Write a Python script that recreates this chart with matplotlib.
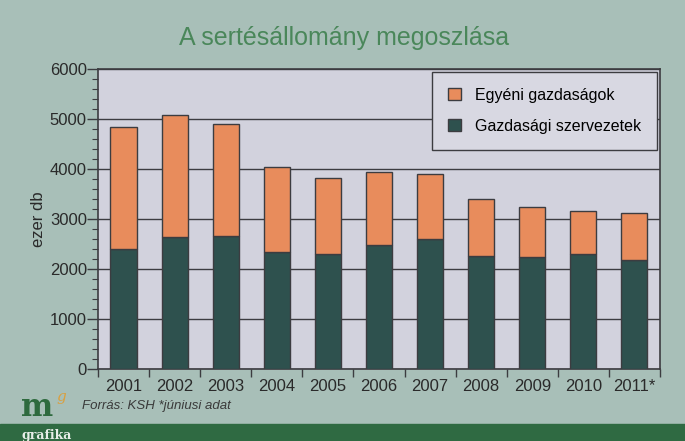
import matplotlib.pyplot as plt
import matplotlib
import numpy as np
from matplotlib.ticker import MultipleLocator

plt.rcParams['font.family'] = ['Liberation Sans', 'DejaVu Sans']

# adatok (ezer db)
evek = ['2001', '2002', '2003', '2004', '2005', '2006', '2007', '2008', '2009', '2010', '2011*']
gazdasagi_szervezetek = [2390, 2630, 2650, 2340, 2300, 2480, 2590, 2250, 2235, 2290, 2175]
egyeni_gazdasagok = [2440, 2455, 2250, 1695, 1520, 1465, 1300, 1140, 1010, 865, 935]

hatter = '#a8bfb8'
rajzter = '#d2d2dd'
narancs = '#e88c5c'
sotet = '#2e514e'
vonal = '#3c3c40'

fig = plt.figure(figsize=(6.85, 4.41), dpi=100, facecolor=hatter)
ax = fig.add_axes([0.143, 0.163, 0.8205, 0.681])
ax.set_facecolor(rajzter)

x = np.arange(len(evek))
ax.bar(x, gazdasagi_szervezetek, width=0.51, color=sotet, edgecolor=vonal,
       linewidth=1, label='Gazdasági szervezetek', zorder=3)
ax.bar(x, egyeni_gazdasagok, width=0.51, bottom=gazdasagi_szervezetek, color=narancs,
       edgecolor=vonal, linewidth=1, label='Egyéni gazdaságok', zorder=3)

ax.set_xlim(-0.5, len(evek) - 0.5)
ax.set_ylim(0, 6000)
ax.yaxis.set_major_locator(MultipleLocator(1000))
ax.yaxis.set_minor_locator(MultipleLocator(200))
ax.grid(axis='y', color=vonal, linewidth=1, zorder=1)

# x tengely: vonalak a kategóriák között, címkék középen
ax.set_xticks(x)
ax.set_xticklabels(evek, fontsize=12, color='#2a2a2a')
ax.set_xticks(np.arange(len(evek) + 1) - 0.5, minor=True)
ax.tick_params(axis='x', which='major', length=0, pad=7)
ax.tick_params(axis='x', which='minor', length=6, width=1, color=vonal, direction='out')
ax.tick_params(axis='y', which='major', length=8, width=1, color=vonal, labelsize=12,
               labelcolor='#2a2a2a', pad=0)
ax.tick_params(axis='y', which='minor', length=4, width=0.8, color=vonal)

for s in ax.spines.values():
    s.set_color(vonal)
    s.set_linewidth(1.2)

ax.set_ylabel('ezer db', fontsize=12, color='#2a2a2a', labelpad=3)

h, l = ax.get_legend_handles_labels()
leg = ax.legend(h[::-1], l[::-1], loc='upper right', bbox_to_anchor=(0.995, 0.99),
                frameon=True, fancybox=False, facecolor='#d8d8e2',
                edgecolor=vonal, handlelength=0.8, handleheight=0.8, labelspacing=1.0,
                borderpad=1.0, handletextpad=0.9, borderaxespad=0,
                prop={'size': 11.5})
leg.get_frame().set_linewidth(1)
leg.get_frame().set_alpha(1)

fig.text(0.503, 0.913, 'A sertésállomány megoszlása', ha='center', va='center',
         fontsize=18, color='#4a875a')

# lábléc
fig.text(0.12, 0.08, 'Forrás: KSH *júniusi adat', ha='left', va='center',
         fontsize=9.5, style='italic', color='#3a3a3a')
fig.text(0.03, 0.075, 'm', ha='left', va='center', fontsize=22, fontweight='bold',
         family=['DejaVu Serif'], color='#2e6a3e')
fig.text(0.083, 0.1, 'g', ha='left', va='center', fontsize=11, style='italic',
         family=['DejaVu Serif'], color='#d9a040')
fig.patches.append(matplotlib.patches.Rectangle((0, 0), 1, 0.039, transform=fig.transFigure,
                                                 color='#2f6a42', zorder=0))
fig.text(0.032, 0.012, 'grafika', ha='left', va='center', fontsize=9, fontweight='bold',
         family=['DejaVu Serif'], color='#e8eee8')

fig.savefig('out.png', dpi=100, facecolor=hatter)
